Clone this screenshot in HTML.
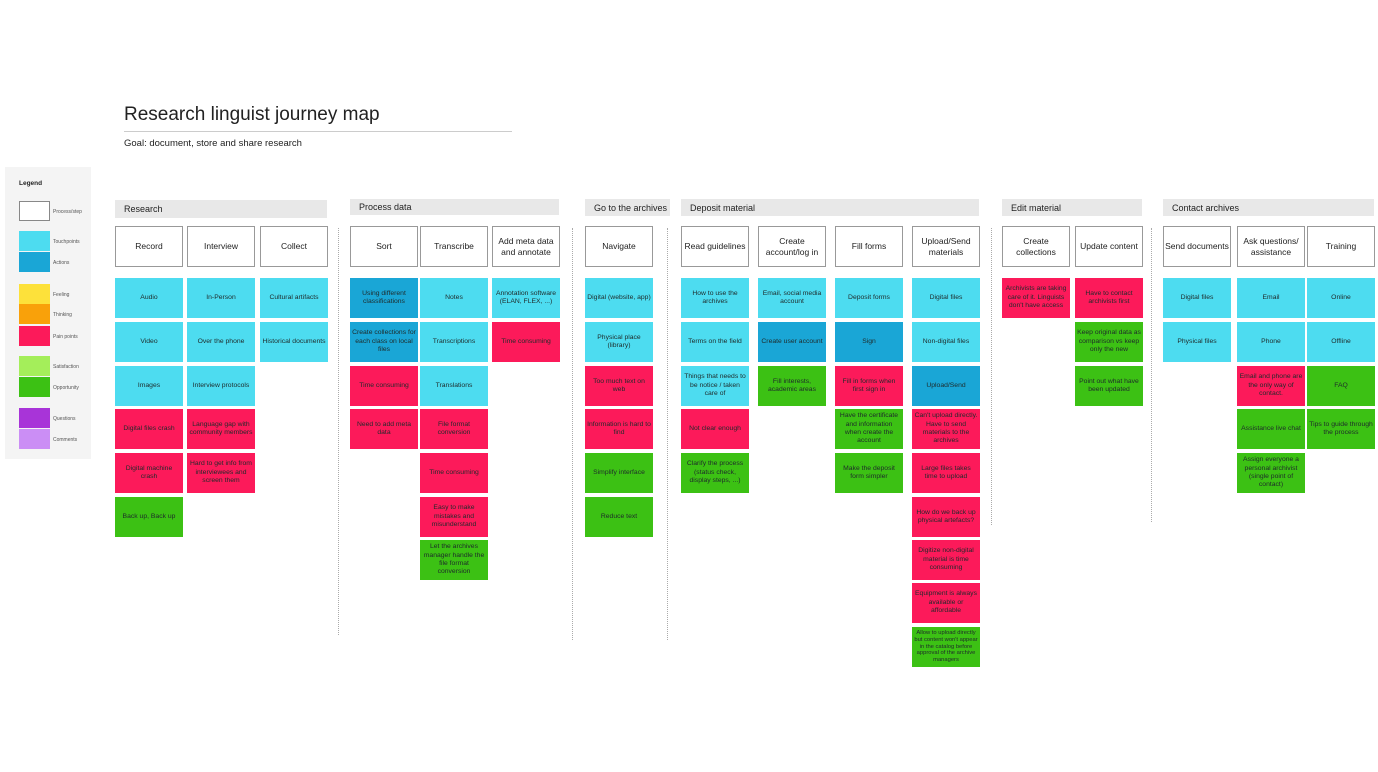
<!DOCTYPE html>
<html><head><meta charset="utf-8">
<style>
body{margin:0;width:1378px;height:772px;background:#fff;position:relative;overflow:hidden;font-family:"Liberation Sans",sans-serif;color:#222}
.a{position:absolute;box-sizing:border-box}
.sec{background:#e8e8e8;font-size:9px;padding-left:9px;display:flex;align-items:center}
.step{border:1.5px solid #999;background:#fff;font-size:8.5px;display:flex;align-items:center;justify-content:center;text-align:center;line-height:1.2;padding:1px}
.card{font-size:6.8px;display:flex;align-items:center;justify-content:center;text-align:center;line-height:1.25;padding:2px;color:#1e2a2a}
.dot{border-left:1px dotted #aaa;width:0}
.lg{width:31px;height:20px}
.lt{font-size:5px;color:#555}
</style></head><body>
<div class="a" style="left:124px;top:104px;font-size:19px;color:#222">Research linguist journey map</div>
<div class="a" style="left:124px;top:131px;width:388px;height:1px;background:#ccc"></div>
<div class="a" style="left:124px;top:138px;font-size:9.5px">Goal: document, store and share research</div>

<div class="a" style="left:5px;top:167px;width:86px;height:292px;background:#f4f4f4">
 <div class="a" style="left:14px;top:13px;font-size:6.5px;font-weight:bold">Legend</div>
 <div id="legend"></div>
</div>
<div id="map"></div>
<script>
const sections=[["Research",115,327,200,218],["Process data",350,559,199,215],["Go to the archives",585,670,199,216],["Deposit material",681,979,199,216],["Edit material",1002,1142,199,216],["Contact archives",1163,1374,199,216]];
const dividers=[[338,228,635],[572,228,640],[667,228,640],[991,228,525],[1151,228,522]];
const steps=[
["Record",115,[["c","Audio"],["c","Video"],["c","Images"],["p","Digital files crash"],["p","Digital machine crash"],["g","Back up, Back up"]]],
["Interview",187,[["c","In-Person"],["c","Over the phone"],["c","Interview protocols"],["p","Language gap with community members"],["p","Hard to get info from interviewees and screen them"]]],
["Collect",260,[["c","Cultural artifacts"],["c","Historical documents"]]],
["Sort",350,[["a","Using different classifications"],["a","Create collections for each class on local files"],["p","Time consuming"],["p","Need to add meta data"]]],
["Transcribe",420,[["c","Notes"],["c","Transcriptions"],["c","Translations"],["p","File format conversion"],["p","Time consuming"],["p","Easy to make mistakes and misunderstand"],["g","Let the archives manager handle the file format conversion"]]],
["Add meta data and annotate",492,[["c","Annotation software (ELAN, FLEX, ...)"],["p","Time consuming"]]],
["Navigate",585,[["c","Digital (website, app)"],["c","Physical place (library)"],["p","Too much text on web"],["p","Information is hard to find"],["g","Simplify interface"],["g","Reduce text"]]],
["Read guidelines",681,[["c","How to use the archives"],["c","Terms on the field"],["c","Things that needs to be notice / taken care of"],["p","Not clear enough"],["g","Clarify the process (status check, display steps, ...)"]]],
["Create account/log in",758,[["c","Email, social media account"],["a","Create user account"],["g","Fill interests, academic areas"]]],
["Fill forms",835,[["c","Deposit forms"],["a","Sign"],["p","Fill in forms when first sign in"],["g","Have the certificate and information when create the account"],["g","Make the deposit form simpler"]]],
["Upload/Send materials",912,[["c","Digital files"],["c","Non-digital files"],["a","Upload/Send"],["p","Can't upload directly. Have to send materials to the archives"],["p","Large files takes time to upload"],["p","How do we back up physical artefacts?"],["p","Digitize non-digital material is time consuming"],["p","Equipment is always available or affordable"],["g","Allow to upload directly but content won't appear in the catalog before approval of the archive managers"]]],
["Create collections",1002,[["p","Archivists are taking care of it. Linguists don't have access"]]],
["Update content",1075,[["p","Have to contact archivists first"],["g","Keep original data as comparison vs keep only the new"],["g","Point out what have been updated"]]],
["Send documents",1163,[["c","Digital files"],["c","Physical files"]]],
["Ask questions/ assistance",1237,[["c","Email"],["c","Phone"],["p","Email and phone are the only way of contact."],["g","Assistance live chat"],["g","Assign everyone a personal archivist (single point of contact)"]]],
["Training",1307,[["c","Online"],["c","Offline"],["g","FAQ"],["g","Tips to guide through the process"]]]
];
const legendItems=[["#fff","Process/step",201],["#4ddcf0","Touchpoints",231],["#1aa6d6","Actions",252],["#fde13a","Feeling",284],["#f9a10a","Thinking",304],["#fc1a5a","Pain points",326],["#a4ee5a","Satisfaction",356],["#3cc114","Opportunity",377],["#a834d8","Questions",408],["#cb8ef5","Comments",429]];
const colors={c:"#4ddcf0",a:"#1aa6d6",p:"#fc1a5a",g:"#3cc114"};
const rowTop=[278,322,366,409,453,497,540,583,627];
const W=67;
const map=document.getElementById('map');
sections.forEach(s=>{const d=document.createElement('div');d.className='a sec';


d.style.cssText=`left:${s[1]}px;top:${s[3]}px;width:${s[2]-s[1]}px;height:${s[4]-s[3]}px`;d.textContent=s[0];map.appendChild(d);});
dividers.forEach(v=>{const d=document.createElement('div');d.className='a dot';


d.style.cssText=`left:${v[0]}px;top:${v[1]}px;height:${v[2]-v[1]}px`;map.appendChild(d);});
steps.forEach(s=>{const h=document.createElement('div');h.className='a step';


h.style.cssText=`left:${s[1]}px;top:226px;width:${W+1}px;height:41px`;h.textContent=s[0];map.appendChild(h);
s[2].forEach((c,i)=>{const d=document.createElement('div');d.className='a card';


d.style.cssText=`left:${s[1]}px;top:${rowTop[i]}px;width:${W+1}px;height:40px;background:${colors[c[0]]};${c[1].length>80?'font-size:5.8px;line-height:1.2':''}`;
d.textContent=c[1];map.appendChild(d);});});
const lg=document.getElementById('legend');
legendItems.forEach(l=>{const b=document.createElement('div');b.className='a lg';


b.style.cssText=`left:14px;top:${l[2]-167}px;background:${l[0]};${l[0]=='#fff'?'border:1px solid #888':''}`;lg.appendChild(b);
const t=document.createElement('div');t.className='a lt';


t.style.cssText=`left:48px;top:${l[2]-167+8}px`;t.textContent=l[1];lg.appendChild(t);});
</script>
</body></html>
